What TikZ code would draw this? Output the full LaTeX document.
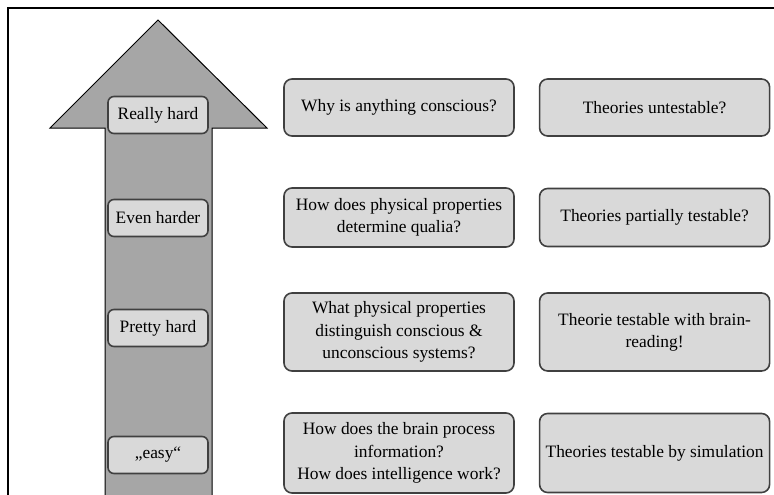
\documentclass[tikz,border=0pt]{standalone}
\usepackage{fontspec}
\setmainfont{Liberation Serif}
\usepackage{tikz}
\usetikzlibrary{positioning}
\definecolor{boxfill}{HTML}{D9D9D9}
\definecolor{boxline}{HTML}{404040}
\definecolor{arrowfill}{HTML}{A6A6A6}

\begin{document}
\begin{tikzpicture}[x=1pt, y=-1pt, node distance=24pt,
					font=\fontsize{17.4}{22.3}\selectfont,
					level/.style={draw=boxline, fill=boxfill, line width=1.6pt, rounded corners=6pt,
						minimum width=100pt, minimum height=37pt, inner sep=2pt},
					question/.style={draw=boxline, fill=boxfill, line width=1.6pt, rounded corners=8pt,
						minimum width=230pt, align=center, inner sep=2pt} ]
					\useasboundingbox (0,0) rectangle (774,495);
					\clip (0,0) rectangle (774,495);
					\draw[line width=1.5pt] (8,8) rectangle (790,510);
					
					%Seta:
					\draw[fill=arrowfill, line width=1pt] (158,20) -- (267,128) -- (212,128) -- (212,510)
						-- (105,510) -- (105,128) -- (50,128) -- cycle;
					
					\node[level] (l1) at (158,115) {Really hard};
					\node[level] (l2) at (158,218) {Even harder};
					\node[level] (l3) at (158,328) {Pretty hard};
					\node[level] (l4) at (158,455) {„easy“};
					
					%Perguntas:
					\node[question, minimum height=57pt] (q1) at (399,107.5) {Why is anything conscious?};
					\node[question, minimum height=59pt] (q2) at (399,217.5) {How does physical properties\\determine qualia?};
					\node[question, minimum height=78pt] (q3) at (399,332) {What physical properties\\distinguish conscious \&\\unconscious systems?};
					\node[question, minimum height=80pt] (q4) at (399,453) {How does the brain process\\information?\\How does intelligence work?};
					
					%Testes:
					\node[question, minimum height=57pt, right=of q1] (t1) {Theories untestable?};
					\node[question, minimum height=58pt, right=of q2] (t2) {Theories partially testable?};
					\node[question, minimum height=78pt, right=of q3] (t3) {Theorie testable with brain-\\reading!};
					\node[question, minimum height=79pt, right=of q4] (t4) {Theories testable by simulation};
				\end{tikzpicture}
\end{document}
